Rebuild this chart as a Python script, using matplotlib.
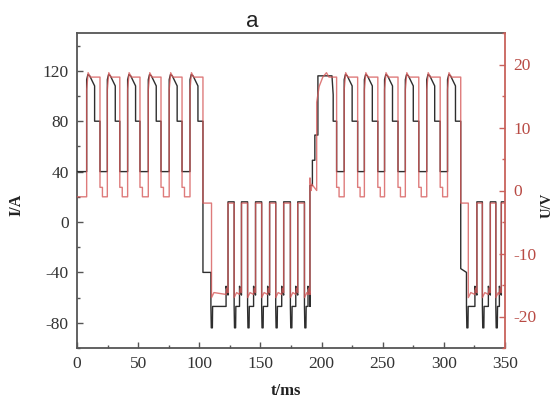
import matplotlib
matplotlib.use('Agg')
import matplotlib.pyplot as plt
from matplotlib.ticker import MultipleLocator

# ---- pulse timing (ms) ----
pos1_rise = [7.9, 24.8, 41.4, 58.3, 75.4, 92.4]
pos1_fall = [18.8, 35.0, 51.5, 68.7, 85.9, 103.0]
neg2_rise = [123.5, 134.5, 146.0, 157.5, 169.0, 180.5]
neg2_fall = [128.5, 139.5, 151.0, 162.5, 174.5, 186.0]
pos3_rise = [197.0, 218.5, 235.0, 251.5, 268.5, 286.0, 303.0]
pos3_fall = [212.3, 229.5, 246.0, 262.5, 279.5, 297.0, 313.8]
neg4_rise = [327.0, 338.0, 347.0]
neg4_fall = [331.5, 342.5, 352.0]
trans_down = [103.0, 313.8]     # positive -> negative block
trans_hold_end = [109.5, 318.5]
trans_up = [190.5]              # negative -> positive block
ramp_times = [190.5, 192.5, 194.5, 197.0]

# ---- current levels (A) ----
I_pos_peak, I_pos_knee, I_pos_step, I_pos_base = 117, 108, 80, 40
I_neg_top, I_neg_hold, I_neg_base = 16, -40, -67
I_neg_bump, I_neg_spike = -51, -84
I_ramp = [29, 49, 69, 116]
I_first_knee = 101

# ---- voltage levels (V) ----
U_pos_top, U_pos_peak, U_pos_base, U_hook = 18.0, 18.7, -1.0, 0.5
U_neg_top, U_neg_base, U_neg_bump = -2.0, -16.5, -15.5
U_ramp = 1.0

It, Iv, Ut, Uv = [], [], [], []
def aI(t, v): It.append(t); Iv.append(v)
def aU(t, v): Ut.append(t); Uv.append(v)

def pos_pulse(r, f, last):
    aI(r, I_pos_base); aI(r, I_pos_peak - 4); aI(r + 1, I_pos_peak)
    aI(r + 2.5, I_pos_peak - 1); aI(r + 6.5, I_pos_knee); aI(r + 6.5, I_pos_step)
    aI(f, I_pos_step)
    aU(r, U_pos_base); aU(r, 16); aU(r + 1.2, U_pos_peak); aU(r + 3, U_pos_top)
    aU(f, U_pos_top)
    if not last:
        aI(f, I_pos_base)
        aU(f, U_hook); aU(f + 2, U_hook); aU(f + 2, U_pos_base)

def neg_bottom(s, e, us=None):
    aI(s, I_neg_base); aI(s + 0.3, I_neg_spike); aI(s + 1.2, I_neg_spike)
    aI(s + 1.4, I_neg_base); aI(e - 1.6, I_neg_base); aI(e - 1.6, I_neg_bump)
    aI(e - 0.6, I_neg_bump - 5); aI(e, I_neg_bump - 7)
    us = s if us is None else us
    aU(us, U_neg_base - 0.5); aU(us + 2, U_neg_base + 0.3); aU(e - 1.6, U_neg_base)
    aU(e - 1.0, U_neg_bump); aU(e, U_neg_base + 0.3)

def neg_loops(rises, falls, last_end):
    for k, (r, f) in enumerate(zip(rises, falls)):
        aI(r, I_neg_top); aI(f, I_neg_top)
        aU(r, U_neg_top); aU(f, U_neg_top)
        nxt = rises[k + 1] if k + 1 < len(rises) else last_end
        if nxt is not None and nxt > f:
            neg_bottom(f, nxt)

# block 1 (positive)
aI(0, I_pos_base); aU(0, U_pos_base)
for k, (r, f) in enumerate(zip(pos1_rise, pos1_fall)):
    pos_pulse(r, f, k == len(pos1_rise) - 1)
# transition down
aI(trans_down[0], I_neg_hold); aI(trans_hold_end[0], I_neg_hold)
aU(trans_down[0], U_neg_top); aU(trans_hold_end[0] + 0.5, U_neg_top)
neg_bottom(trans_hold_end[0], neg2_rise[0], us=trans_hold_end[0] + 0.5)
neg_loops(neg2_rise, neg2_fall, trans_up[0])
# transition up (stepped current ramp)
aI(ramp_times[0], I_neg_base)
for k in range(len(I_ramp) - 1):
    aI(ramp_times[k], I_ramp[k]); aI(ramp_times[k + 1], I_ramp[k])
aI(ramp_times[-1], I_ramp[-1])
aU(trans_up[0], U_neg_base); aU(trans_up[0], U_ramp + 1); aU(trans_up[0] + 1, U_ramp - 1)
aU(trans_up[0] + 1.5, U_ramp); aU(pos3_rise[0] - 1, U_pos_base + 1)
# block 3 first (long) pulse
r0, f0 = pos3_rise[0], pos3_fall[0]
aI(f0 - 3.8, I_ramp[-1]); aI(f0 - 2.8, I_first_knee); aI(f0 - 2.8, I_pos_step)
aI(f0, I_pos_step); aI(f0, I_pos_base)
aU(r0 - 1, 14); aU(r0 + 1, 16.5); aU(r0 + 4, U_pos_top); aU(r0 + 7, U_pos_peak)
aU(r0 + 9, U_pos_top); aU(f0, U_pos_top); aU(f0, U_hook); aU(f0 + 2, U_hook); aU(f0 + 2, U_pos_base)
for k in range(1, len(pos3_rise)):
    pos_pulse(pos3_rise[k], pos3_fall[k], k == len(pos3_rise) - 1)
# transition down (block 4)
aI(trans_down[1], -37); aI(trans_hold_end[1], I_neg_hold)
aU(trans_down[1], U_neg_top); aU(trans_hold_end[1] + 1.5, U_neg_top)
neg_bottom(trans_hold_end[1], neg4_rise[0], us=trans_hold_end[1] + 1.5)
neg_loops(neg4_rise, neg4_fall, None)

# ---- figure ----
plt.rcParams['font.family'] = ['Liberation Serif', 'DejaVu Serif']
plt.rcParams['axes.unicode_minus'] = False
fig = plt.figure(figsize=(5.55, 3.98), dpi=100)
ax = fig.add_axes([77 / 555, 1 - 348 / 398, 428 / 555, 315 / 398])
ax2 = ax.twinx()

ax.plot(It, Iv, color='#2e2e2e', lw=1.0, zorder=3)
ax2.plot(Ut, Uv, color='#d65a5a', lw=1.0, alpha=0.8, zorder=4)

ax.set_xlim(0, 350)
ax.set_ylim(-100, 150)
ax2.set_ylim(-25, 25)

ax.xaxis.set_major_locator(MultipleLocator(50))
ax.xaxis.set_minor_locator(MultipleLocator(25))
ax.yaxis.set_minor_locator(MultipleLocator(20))
ax.set_yticks([-80, -40, 0, 40, 80, 120])
ax2.yaxis.set_minor_locator(MultipleLocator(5))
ax2.set_yticks([-20, -10, 0, 10, 20])

grey = '#555555'
red = '#b84a44'
for s in ['left', 'bottom', 'top']:
    ax.spines[s].set_color(grey)
    ax.spines[s].set_linewidth(1.3)
for s in ['left', 'bottom', 'top']:
    ax2.spines[s].set_visible(False)
ax2.spines['right'].set_color('#c8625c')
ax2.spines['right'].set_linewidth(1.3)
ax.spines['right'].set_visible(False)

ax.tick_params(axis='both', which='major', direction='in', length=4, width=1,
               color=grey, labelsize=12.5, labelcolor='#333333', pad=6)
ax.tick_params(axis='both', which='minor', direction='in', length=2.5, width=1, color=grey)
ax.tick_params(axis='y', right=False)
ax2.tick_params(axis='y', which='major', direction='in', length=4, width=1,
                color='#c8625c', labelsize=12.5, labelcolor=red, pad=6)
ax2.tick_params(axis='y', which='minor', direction='in', length=2.5, width=1, color='#c8625c')

ax.set_xlabel('t/ms', fontsize=12, fontweight='bold', color='#222222')
ax.xaxis.set_label_coords(0.488, -0.112)
ax.set_ylabel('I/A', fontsize=11.5, fontweight='bold', color='#222222')
ax.yaxis.set_label_coords(-0.122, 0.454)
ax2.set_ylabel('U/V', fontsize=10.5, fontweight='bold', color='#222222')
ax2.yaxis.set_label_coords(1.082, 0.454)

fig.text(252.5 / 555, 1 - 27 / 398, 'a', family=['Liberation Sans', 'DejaVu Sans'],
         fontsize=16, ha='center', va='baseline', color='#222222')

fig.savefig('out.png', dpi=100)
